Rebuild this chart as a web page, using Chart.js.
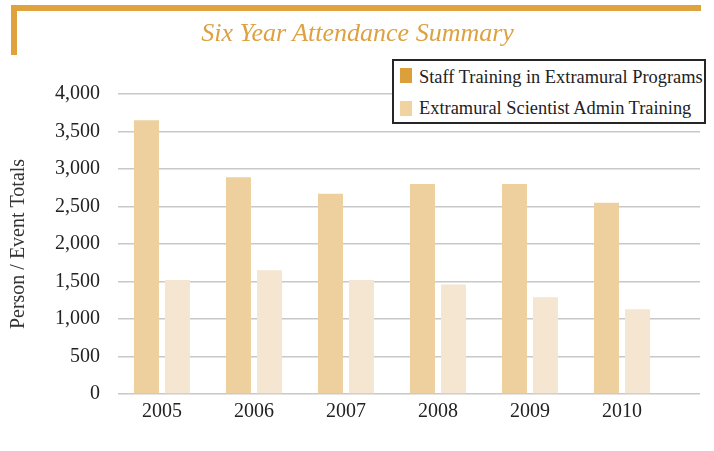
<!DOCTYPE html>
<html>
<head>
<meta charset="utf-8">
<script src="https://cdn.jsdelivr.net/npm/chart.js@4.4.1/dist/chart.umd.min.js"></script>
<style>
  html, body { margin: 0; padding: 0; background: #fff; }
  #wrap { position: relative; width: 714px; height: 451px; overflow: hidden; }
  #frame {
    position: absolute; left: 11px; top: 5px; width: 690px; height: 50px;
    box-sizing: border-box;
    border-top: 6px solid #dfa23c; border-left: 6px solid #dfa23c;
  }
  #title {
    position: absolute; left: 0; top: 20px; width: 715px; text-align: center;
    font: italic 26px/26px "Liberation Serif", serif; color: #dda13f;
  }
  #legend {
    position: absolute; left: 392px; top: 59px; width: 314px; height: 65px;
    box-sizing: border-box; border: 2.5px solid #262626; background: #fff;
  }
  .item {
    position: absolute; left: 6px; white-space: nowrap;
    font: 18.4px/18px "Liberation Serif", serif; color: #222;
  }
  .swatch { position: absolute; left: 0; top: 0; width: 12px; height: 15px; }
  .item span.txt { position: absolute; left: 19px; top: 0; }
</style>
</head>
<body>
<div id="wrap">
  <canvas id="chart" width="714" height="451"></canvas>
  <div id="frame"></div>
  <div id="title">Six Year Attendance Summary</div>
  <div id="legend"></div>
</div>
<script>
/* ---------- data ---------- */
const years         = ['2005', '2006', '2007', '2008', '2009', '2010'];
const staffTraining = [3650, 2890, 2670, 2800, 2800, 2550];
const adminTraining = [1520, 1650, 1520, 1460, 1290, 1130];
const seriesNames   = ['Staff Training in Extramural Programs', 'Extramural Scientist Admin Training'];
const barColors     = ['#edd09e', '#f4e6d1'];
const legendColors  = ['#dca03a', '#f0d3a0'];

const serif = '"Liberation Serif", serif';
const toPoints = arr => arr.map((v, i) => ({ x: i, y: v }));

/* ---------- chart ---------- */
const chart = new Chart(document.getElementById('chart'), {
  type: 'bar',
  data: {
    datasets: [
      { label: seriesNames[0], data: toPoints(staffTraining), backgroundColor: barColors[0] },
      { label: seriesNames[1], data: toPoints(adminTraining), backgroundColor: barColors[1] }
    ]
  },
  options: {
    responsive: false,
    animation: false,
    devicePixelRatio: 1,
    barPercentage: 0.806,
    categoryPercentage: 0.674,
    layout: { padding: { top: 94, right: 14, bottom: 21, left: 0 } },
    plugins: { legend: { display: false }, tooltip: { enabled: false } },
    scales: {
      x: {
        type: 'linear',
        offset: false,
        min: -0.478,
        max: 5.848,
        grid: { display: false, drawTicks: false },
        border: { display: false },
        afterBuildTicks: s => { s.ticks = years.map((_, i) => ({ value: i })); },
        ticks: {
          padding: 6,
          color: '#222',
          font: { family: serif, size: 20 },
          callback: v => years[v]
        }
      },
      y: {
        min: 0,
        max: 4000,
        afterFit: s => { s.width = 118; },
        grid: { color: '#c8c8c8', lineWidth: 1.5, drawTicks: false },
        border: { display: false },
        ticks: {
          stepSize: 500,
          padding: 18,
          color: '#222',
          font: { family: serif, size: 20 },
          callback: v => v.toLocaleString('en-US')
        },
        title: {
          display: true,
          text: 'Person / Event Totals',
          color: '#333',
          font: { family: serif, size: 20 },
          padding: { top: 7, bottom: 0 }
        }
      }
    }
  }
});

/* ---------- legend ---------- */
const legendEl = document.getElementById('legend');
const rowTops = [7, 38];
chart.data.datasets.forEach((ds, i) => {
  const row = document.createElement('div');
  row.className = 'item';
  row.style.top = rowTops[i] + 'px';
  row.innerHTML = `<div class="swatch" style="background:${legendColors[i]};top:${i ? 2 : 0}px"></div>` +
                  `<span class="txt">${ds.label}</span>`;
  legendEl.appendChild(row);
});
</script>
</body>
</html>
